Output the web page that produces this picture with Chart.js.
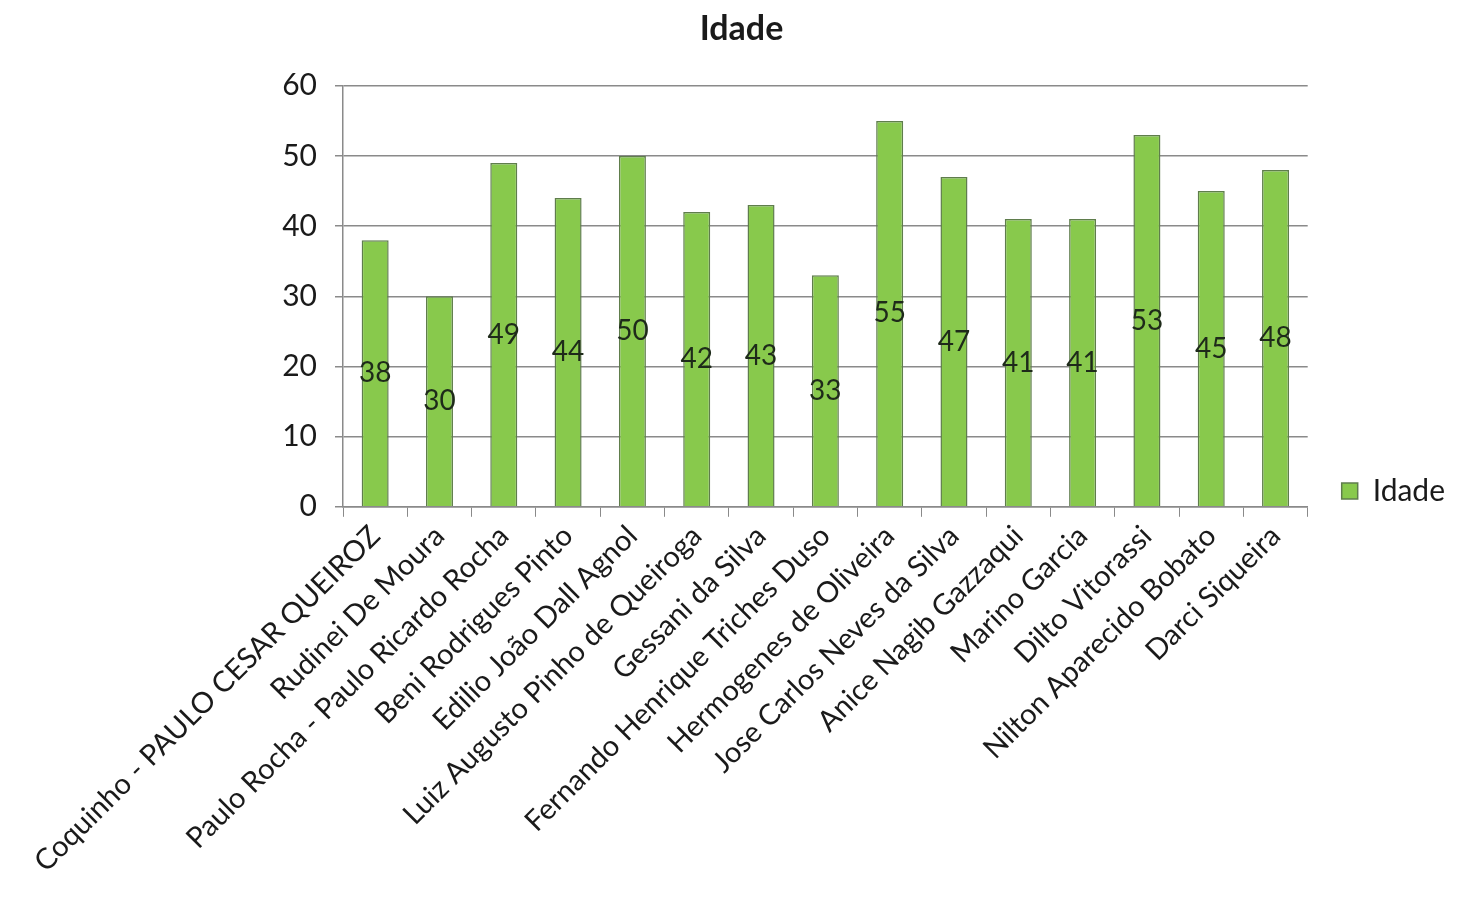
<!DOCTYPE html>
<html>
<head>
<meta charset="utf-8">
<script src="https://cdn.jsdelivr.net/npm/chart.js@4"></script>
<style>
  html, body { margin: 0; padding: 0; background: #fff; }
  #wrap { width: 1460px; height: 903px; }
</style>
</head>
<body>
<div id="wrap"><canvas id="chart"></canvas></div>
<script>
const names = [
  "Coquinho - PAULO CESAR QUEIROZ",
  "Rudinei De Moura",
  "Paulo Rocha - Paulo Ricardo Rocha",
  "Beni Rodrigues Pinto",
  "Edilio João Dall Agnol",
  "Luiz Augusto Pinho de Queiroga",
  "Gessani da Silva",
  "Fernando Henrique Triches Duso",
  "Hermogenes de Oliveira",
  "Jose Carlos Neves da Silva",
  "Anice Nagib Gazzaqui",
  "Marino Garcia",
  "Dilto Vitorassi",
  "Nilton Aparecido Bobato",
  "Darci Siqueira"
];
const idade = [38, 30, 49, 44, 50, 42, 43, 33, 55, 47, 41, 41, 53, 45, 48];
const yTicks = [0, 10, 20, 30, 40, 50, 60];

const FONT = "Lato, 'Open Sans', sans-serif";

// value labels in the middle of each bar
const midLabels = {
  id: "midLabels",
  afterDatasetsDraw(chart) {
    const ctx = chart.ctx;
    const meta = chart.getDatasetMeta(0);
    ctx.save();
    ctx.font = "28px " + FONT;
    ctx.fillStyle = "#1e2a1a";
    ctx.textAlign = "center";
    ctx.textBaseline = "middle";
    meta.data.forEach((bar, i) => {
      ctx.fillText(String(idade[i]), bar.x, (bar.y + bar.base) / 2);
    });
    ctx.restore();
  }
};

new Chart(document.getElementById("chart"), {
  type: "bar",
  data: {
    labels: names,
    datasets: [
      {
        label: "Idade",
        data: idade,
        backgroundColor: "#88c94c",
        borderColor: "#5f7d4c",
        borderWidth: 1.5,
        barPercentage: 0.6,
        categoryPercentage: 0.7
      }
    ]
  },
  options: {
    responsive: true,
    maintainAspectRatio: false,
    animation: false,
    layout: { padding: { left: 28, right: 5, top: 4, bottom: 22 } },
    plugins: {
      title: {
        display: true,
        text: "Idade",
        color: "#1a1a1a",
        font: { family: FONT, size: 34, weight: "bold" },
        padding: { top: 5, bottom: 36 }
      },
      legend: {
        position: "right",
        title: {
          display: true,
          text: " ",
          font: { size: 1 },
          padding: { top: 96, bottom: 0 }
        },
        labels: {
          color: "#1a1a1a",
          font: { family: FONT, size: 30 },
          boxWidth: 16,
          boxHeight: 16,
          padding: 34
        }
      },
      tooltip: { enabled: false }
    },
    scales: {
      x: {
        grid: {
          drawOnChartArea: false,
          color: "#8a8a8a",
          tickLength: 10,
          offset: true
        },
        border: { color: "#8a8a8a", width: 1.5 },
        ticks: {
          color: "#1a1a1a",
          font: { family: FONT, size: 29 },
          minRotation: 45,
          maxRotation: 45,
          autoSkip: false,
          padding: 2
        }
      },
      y: {
        min: 0,
        max: 60,
        afterBuildTicks: (scale) => {
          scale.ticks = yTicks.map((v) => ({ value: v }));
        },
        afterFit: (scale) => {
          scale.width = 315;
        },
        grid: { color: "#8a8a8a", lineWidth: 1.5, tickLength: 8 },
        border: { color: "#8a8a8a", width: 1.5 },
        ticks: {
          color: "#1a1a1a",
          font: { family: FONT, size: 30 },
          padding: 18
        }
      }
    }
  },
  plugins: [midLabels]
});
</script>
</body>
</html>
